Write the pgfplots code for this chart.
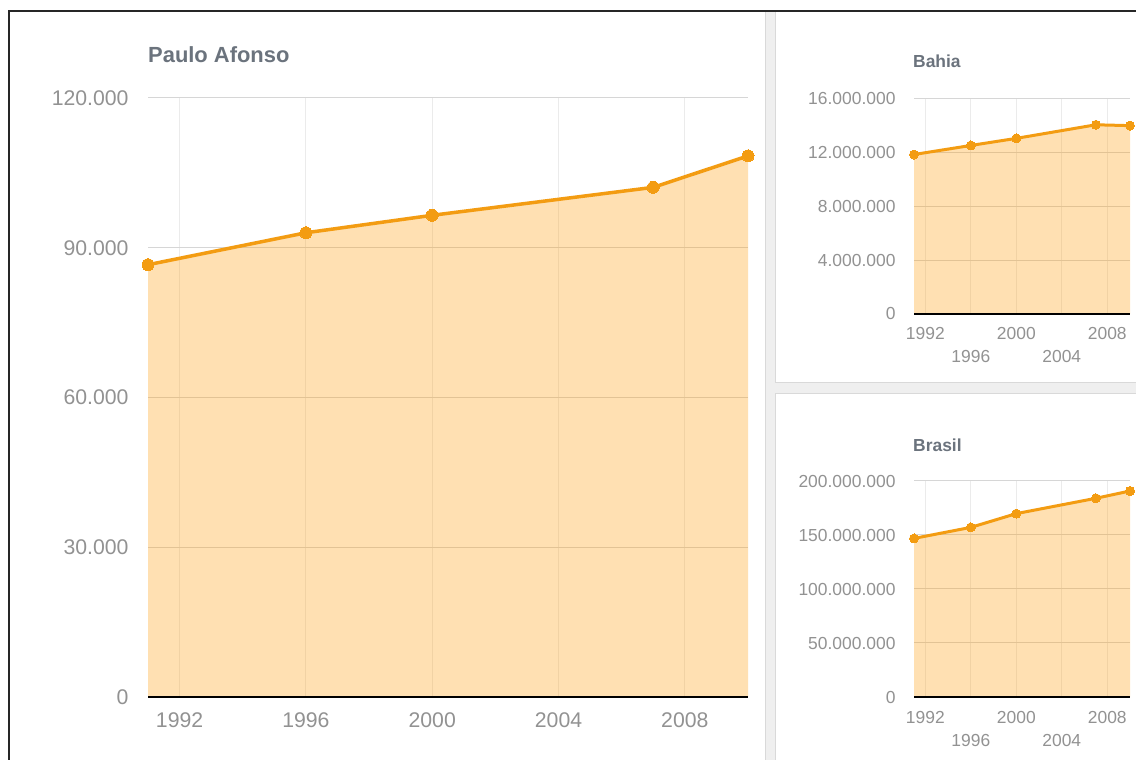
\documentclass[border=0pt]{standalone}
\usepackage{pgfplots}
\pgfplotsset{compat=1.18}
\usepackage{fontspec}
\setmainfont{Liberation Sans}
\definecolor{lineor}{HTML}{F39C12}
\definecolor{fillor}{HTML}{FF9900}
\definecolor{ticklab}{HTML}{929292}
\definecolor{titlec}{HTML}{6B737D}
\definecolor{hgrid}{HTML}{D6D6D6}
\definecolor{vgrid}{HTML}{EBEBEB}
\definecolor{sepfill}{HTML}{EFEFEF}
\definecolor{sepline}{HTML}{D9D9D9}
\pgfplotsset{
  mystyle/.style={
    scale only axis,
    axis line style={draw=none},
    major tick length=0pt,
    tick style={draw=none},
    xmajorgrids, ymajorgrids,
    every axis x grid/.style={vgrid, line width=1bp},
    every axis y grid/.style={hgrid, line width=1bp},
    clip=false,
    scaled y ticks=false, scaled x ticks=false,
    xmin=1991, xmax=2010, ymin=0,
    tick label style={text=ticklab},
  }
}
\pgfplotstableread{
year pa
1991 86600
1996 93000
2000 96500
2007 102100
2010 108400
}\pa
\pgfplotstableread{
year ba
1991 11868000
1996 12542000
2000 13070000
2007 14081000
2010 14017000
}\ba
\pgfplotstableread{
year br
1991 146825000
1996 157070000
2000 169799000
2007 183987000
2010 190756000
}\br
\begin{document}
\begin{tikzpicture}
\path[use as bounding box, fill=white] (0,0) rectangle (1136bp,760bp);
% separator bands
\fill[sepfill] (765bp,0) rectangle (775bp,749bp);
\draw[sepline, line width=1bp] (765bp,0) -- (765bp,749bp);
\draw[sepline, line width=1bp] (775bp,0) -- (775bp,377bp);
\draw[sepline, line width=1bp] (775bp,366bp) -- (775bp,749bp);
\fill[sepfill] (775bp,366bp) rectangle (1136bp,377bp);
\draw[sepline, line width=1bp] (775bp,377bp) -- (1136bp,377bp);
\draw[sepline, line width=1bp] (775bp,366bp) -- (1136bp,366bp);
% outer border
\draw[black!85, line width=1.3bp] (9bp,0) -- (9bp,749bp) -- (1136bp,749bp);

% ---------- Paulo Afonso ----------
\begin{axis}[mystyle,
  at={(148bp,63bp)}, anchor=south west,
  width=600bp, height=599bp,
  ymax=120000,
  xtick={1992,1996,2000,2004,2008},
  xticklabels={1992,1996,2000,2004,2008},
  ytick={0,30000,60000,90000,120000},
  yticklabels={0,30.000,60.000,90.000,120.000},
  tick label style={font=\fontsize{21.3}{25}\selectfont},
  yticklabel style={xshift=-16bp},
  xticklabel style={anchor=base, yshift=-31bp},
]
\addplot[draw=none, fill=fillor, fill opacity=0.3] table[x=year,y=pa]{\pa} \closedcycle;
\addplot[black, line width=2bp] coordinates {(1991,0) (2010,0)};
\addplot[lineor, line width=3.5bp, mark=*, mark size=6bp, mark options={fill=lineor, draw=lineor, line width=0pt}] table[x=year,y=pa]{\pa};
\end{axis}
\node[anchor=base west, inner sep=0, text=titlec, font=\bfseries\fontsize{22}{26}\selectfont] at (148bp,697bp) {Paulo Afonso};

% ---------- Bahia ----------
\begin{axis}[mystyle,
  at={(914bp,446bp)}, anchor=south west,
  width=216bp, height=215bp,
  ymax=16000000,
  xtick={1992,1996,2000,2004,2008},
  xticklabels={1992,\raisebox{-23bp}{1996},2000,\raisebox{-23bp}{2004},2008},
  ytick={0,4000000,8000000,12000000,16000000},
  yticklabels={0,4.000.000,8.000.000,12.000.000,16.000.000},
  tick label style={font=\fontsize{17.5}{21}\selectfont},
  yticklabel style={xshift=-15bp},
  xticklabel style={anchor=base, yshift=-26bp},
]
\addplot[draw=none, fill=fillor, fill opacity=0.3] table[x=year,y=ba]{\ba} \closedcycle;
\addplot[black, line width=2bp] coordinates {(1991,0) (2010,0)};
\addplot[lineor, line width=3bp, mark=*, mark size=4.5bp, mark options={fill=lineor, draw=lineor, line width=0pt}] table[x=year,y=ba]{\ba};
\end{axis}
\node[anchor=base west, inner sep=0, text=titlec, font=\bfseries\fontsize{17.5}{21}\selectfont] at (913bp,692bp) {Bahia};

% ---------- Brasil ----------
\begin{axis}[mystyle,
  at={(914bp,63bp)}, anchor=south west,
  width=216bp, height=216bp,
  ymax=200000000,
  xtick={1992,1996,2000,2004,2008},
  xticklabels={1992,\raisebox{-23bp}{1996},2000,\raisebox{-23bp}{2004},2008},
  ytick={0,50000000,100000000,150000000,200000000},
  yticklabels={0,50.000.000,100.000.000,150.000.000,200.000.000},
  tick label style={font=\fontsize{17.5}{21}\selectfont},
  yticklabel style={xshift=-15bp},
  xticklabel style={anchor=base, yshift=-26bp},
]
\addplot[draw=none, fill=fillor, fill opacity=0.3] table[x=year,y=br]{\br} \closedcycle;
\addplot[black, line width=2bp] coordinates {(1991,0) (2010,0)};
\addplot[lineor, line width=3bp, mark=*, mark size=4.5bp, mark options={fill=lineor, draw=lineor, line width=0pt}] table[x=year,y=br]{\br};
\end{axis}
\node[anchor=base west, inner sep=0, text=titlec, font=\bfseries\fontsize{17.5}{21}\selectfont] at (913bp,308bp) {Brasil};
\end{tikzpicture}
\end{document}
